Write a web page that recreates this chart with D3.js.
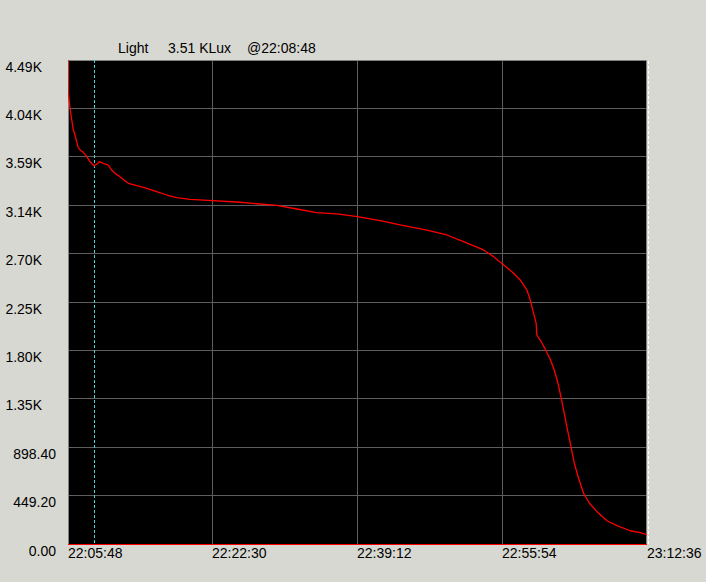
<!DOCTYPE html>
<html>
<head>
<meta charset="utf-8">
<script src="https://cdn.jsdelivr.net/npm/d3@7"></script>
<style>
html,body{margin:0;padding:0;background:#d8d8d2;}
svg{display:block;}
text{font-family:"Liberation Sans",Arial,sans-serif;font-size:14px;fill:#000;}
</style>
</head>
<body>
<svg id="chart" width="706" height="582"></svg>
<script>
// ---- data ----
const seriesName = "Light";
const unitLabel = "KLux";
const startTime = "22:05:48";
const endTime = "23:12:36";
const cursorTime = "22:08:48";
const cursorValue = 3.51; // KLux
const xTickLabels = ["22:05:48", "22:22:30", "22:39:12", "22:55:54", "23:12:36"];
const yTickValues = [0, 449.2, 898.4, 1347.6, 1796.8, 2246, 2695.2, 3144.4, 3593.6, 4042.8, 4492];
const yTickLabels = ["0.00", "449.20", "898.40", "1.35K", "1.80K", "2.25K", "2.70K", "3.14K", "3.59K", "4.04K", "4.49K"];
const elapsedSec = [0,2,14,26,37,48,60,71,83,106,130,152,175,180,199,217,244,279,303,326,360,395,418,476,545,614,684,753,845,1000,1168,1307,1445,1584,1722,1861,2004,2161,2299,2484,2623,2738,2876,2946,3008,3073,3131,3177,3200,3223,3241,3245,3269,3304,3338,3366,3389,3412,3435,3458,3482,3505,3534,3569,3610,3662,3731,3800,3892,3962,4008];
const luxValues = [4492,4195,4044,3935,3842,3796,3734,3678,3657,3635,3595,3548,3517,3510,3524,3548,3533,3517,3471,3440,3409,3369,3348,3325,3301,3270,3239,3214,3199,3186,3174,3158,3143,3109,3075,3063,3038,3001,2961,2914,2868,2806,2729,2667,2599,2527,2450,2357,2265,2141,2048,1940,1893,1807,1714,1615,1506,1367,1213,1058,903,749,610,471,378,300,216,170,123,105,86];

// ---- layout ----
const L = 68, R = 647, T = 60, B = 544;
const parse = d3.timeParse("%H:%M:%S");
const fmt = d3.timeFormat("%H:%M:%S");
const t0 = parse(startTime), t1 = parse(endTime);

const x = d3.scaleTime().domain([t0, t1]).range([L, R]);
const y = d3.scaleLinear().domain([0, 4492]).range([B, T]);
const crisp = v => Math.floor(v) + 0.5;

const svg = d3.select("#chart");

// plot background
svg.append("rect").attr("x", L).attr("y", T).attr("width", R - L - 1).attr("height", B - T)
  .attr("fill", "#000");

// y grid + labels
const yAxis = d3.axisLeft(y).tickValues(yTickValues).tickSize(0)
  .tickFormat((d, i) => yTickLabels[i]);
const gy = svg.append("g").call(yAxis);
gy.select(".domain").remove();
gy.selectAll(".tick").attr("transform", d => `translate(0,${crisp(y(d))})`);
gy.selectAll(".tick text")
  .attr("x", (d, i) => yTickLabels[i].endsWith("K") ? 42 : 56)
  .attr("dy", null).attr("y", 11.5)
  .attr("text-anchor", "end")
  .style("font-family", '"Liberation Sans",Arial,sans-serif').style("font-size", "14px").attr("fill", "#000");
gy.selectAll(".tick").append("line")
  .attr("x1", L).attr("x2", R - 1).attr("stroke", "#5e5e5e").attr("stroke-width", 1);

// x grid + labels
const xTicks = xTickLabels.map(parse);
const xAxis = d3.axisBottom(x).tickValues(xTicks).tickSize(0).tickFormat(d => fmt(d));
const gx = svg.append("g").attr("transform", `translate(0,${B})`).call(xAxis);
gx.select(".domain").remove();
gx.selectAll(".tick").attr("transform", d => `translate(${crisp(x(d))},0)`);
gx.selectAll(".tick text")
  .attr("x", -0.5).attr("dy", null).attr("y", 14)
  .attr("text-anchor", "start")
  .style("font-family", '"Liberation Sans",Arial,sans-serif').style("font-size", "14px").attr("fill", "#000");
gx.selectAll(".tick").filter((d, i) => i > 0 && i < xTicks.length - 1).append("line")
  .attr("y1", 0).attr("y2", T - B).attr("stroke", "#5e5e5e").attr("stroke-width", 1);

// plot frame (gray left/top/right)
svg.append("path")
  .attr("d", `M${L + 0.5},${B}V${T + 0.5}H${R - 0.5}V${B}`)
  .attr("fill", "none").attr("stroke", "#808080").attr("stroke-width", 1);
// red baseline
svg.append("line").attr("x1", L).attr("x2", R).attr("y1", B + 0.5).attr("y2", B + 0.5)
  .attr("stroke", "#ff0000").attr("stroke-width", 1);
// white dashed line at right end
svg.append("line").attr("x1", R + 1.5).attr("x2", R + 1.5).attr("y1", T + 1).attr("y2", B)
  .attr("stroke", "#ffffff").attr("stroke-width", 1).attr("stroke-dasharray", "3,2");

// clip
svg.append("clipPath").attr("id", "clip").append("rect")
  .attr("x", L).attr("y", T).attr("width", R - L).attr("height", B - T + 1);

// cursor
const cx = crisp(x(parse(cursorTime)));
svg.append("line").attr("x1", cx).attr("x2", cx).attr("y1", T).attr("y2", B)
  .attr("stroke", "#4fd6dc").attr("stroke-width", 1).attr("stroke-dasharray", "3,2");

// series line
const data = elapsedSec.map((s, i) => ({ t: new Date(t0.getTime() + s * 1000), v: luxValues[i] }));
const line = d3.line().x(d => x(d.t)).y(d => y(d.v));
svg.append("path").datum(data)
  .attr("clip-path", "url(#clip)")
  .attr("d", line)
  .attr("fill", "none").attr("stroke", "#ff0000").attr("stroke-width", 1.3)
  .attr("stroke-linejoin", "round");

// title
const title = svg.append("g");
title.append("text").attr("x", 118).attr("y", 53).text(seriesName);
title.append("text").attr("x", 168).attr("y", 53).text(`${cursorValue.toFixed(2)} ${unitLabel}`);
title.append("text").attr("x", 247).attr("y", 53).text(`@${cursorTime}`);
</script>
</body>
</html>
